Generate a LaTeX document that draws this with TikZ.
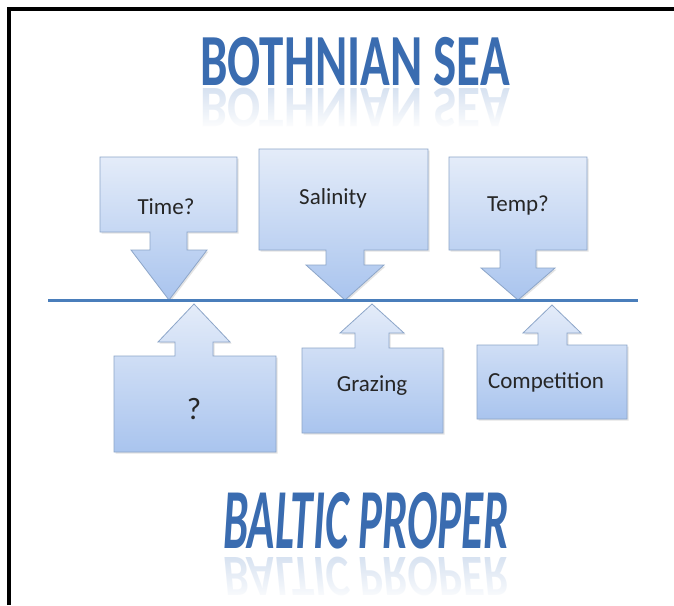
\documentclass[tikz,border=0pt]{standalone}
\usepackage{fontspec}
\setmainfont{Carlito}
\usetikzlibrary{fadings,shadows}
\definecolor{titleblue}{HTML}{3A6CB0}
\definecolor{reflblue}{HTML}{9DB8DE}
\definecolor{boxtop}{HTML}{E4ECF9}
\definecolor{boxbot}{HTML}{A9C4EE}
\definecolor{boxline}{HTML}{8DA6C9}
\definecolor{axisblue}{HTML}{4A7EBB}
\tikzfading[name=fadedown, top color=transparent!100, bottom color=transparent!0]
\begin{document}
\begin{tikzpicture}[x=1pt,y=-1pt,
  callout/.style={draw=boxline, line width=0.8pt, top color=boxtop, bottom color=boxbot,
    drop shadow={opacity=0.22, shadow xshift=1.5pt, shadow yshift=-1.5pt}},
  boxtext/.style={font=\fontsize{23}{25}\selectfont, text=black!85, inner sep=0pt},
  title/.style={font=\bfseries, text=titleblue, inner sep=0pt},
  refl/.style={font=\bfseries, text=reflblue, inner sep=0pt, opacity=0.4}]
\useasboundingbox (0,0) rectangle (674,605);
\fill[white] (0,0) rectangle (674,605);
% frame
\draw[line width=4pt] (9,605) -- (9,9) -- (674,9);

% titles with reflections
\node[refl] (r1) at (355,108) {\fontsize{49}{49}\selectfont\scalebox{1}[-1.2]{BOTHNIAN SEA}};
\fill[white, path fading=fadedown] (180,88) rectangle (530,130);
\node[title] (t1) at (355,62) {\fontsize{49}{49}\selectfont\scalebox{1}[1.5]{BOTHNIAN SEA}};

\node[refl] (r2) at (366,576) {\fontsize{45}{45}\selectfont\itshape\scalebox{1}[-1.3]{BALTIC PROPER}};
\fill[white, path fading=fadedown] (200,556) rectangle (540,603);
\node[title] (t2) at (366,521) {\fontsize{45}{45}\selectfont\itshape\scalebox{1}[1.9]{BALTIC PROPER}};

% down callouts
\path[callout] (100,157) -- (237,157) -- (237,232) -- (187,232) -- (187,250) -- (207,250)
  -- (169,300) -- (131,250) -- (150,250) -- (150,232) -- (100,232) -- cycle;
\path[callout] (259,149) -- (428,149) -- (428,250) -- (364,250) -- (364,265) -- (384,265)
  -- (345,300) -- (306,265) -- (326,265) -- (326,250) -- (259,250) -- cycle;
\path[callout] (449,157) -- (587,157) -- (587,250) -- (536,250) -- (536,268) -- (555,268)
  -- (518,300) -- (481,268) -- (500,268) -- (500,250) -- (449,250) -- cycle;

% up callouts
\path[callout] (114,356) -- (175,356) -- (175,342) -- (158,342) -- (194,304) -- (230,342)
  -- (213,342) -- (213,356) -- (276,356) -- (276,452) -- (114,452) -- cycle;
\path[callout] (302,348) -- (355,348) -- (355,333) -- (340,333) -- (372,304) -- (404,333)
  -- (389,333) -- (389,348) -- (443,348) -- (443,433) -- (302,433) -- cycle;
\path[callout] (477,345) -- (538,345) -- (538,333) -- (523,333) -- (552,305) -- (581,333)
  -- (567,333) -- (567,345) -- (627,345) -- (627,419) -- (477,419) -- cycle;

% axis line
\coordinate (la) at (48,300);
\coordinate (lb) at (638,300);
\draw[axisblue, line width=3pt] (la) -- (lb);

% texts
\node[boxtext] (time) at (166,207) {Time?};
\node[boxtext] (sal) at (333,198) {Salinity};
\node[boxtext] (temp) at (518,205) {Temp?};
\node[boxtext, font=\fontsize{31}{33}\selectfont] (q) at (194,409) {?};
\node[boxtext] (graz) at (372,386) {Grazing};
\node[boxtext] (comp) at (546,382) {Competition};
\end{tikzpicture}
\end{document}
